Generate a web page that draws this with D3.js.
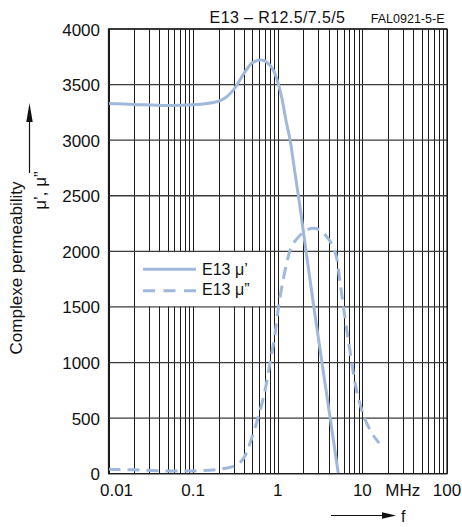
<!DOCTYPE html>
<html>
<head>
<meta charset="utf-8">
<script src="https://cdn.jsdelivr.net/npm/d3@7"></script>
<style>
  html, body { margin: 0; padding: 0; background: #fff; }
  svg { display: block; font-family: "Liberation Sans", Arial, Helvetica, sans-serif; }
</style>
</head>
<body>
<svg id="chart" width="462" height="527"></svg>
<script>
// Complex permeability of E13 material, R12.5/7.5/5 toroid, versus frequency
const freqReal = [0.01, 0.02, 0.05, 0.1, 0.2, 0.3, 0.4, 0.5, 0.63, 0.8, 0.97, 1.11, 1.27, 1.4, 1.6, 1.83, 2.1, 2.6, 3.2, 4.0, 5.2];
const muReal   = [3330, 3322, 3312, 3318, 3350, 3452, 3602, 3697, 3721, 3678, 3557, 3391, 3152, 3002, 2703, 2403, 2070, 1560, 1090, 590, 0];

const freqImag = [0.01, 0.02, 0.05, 0.1, 0.2, 0.3, 0.4, 0.5, 0.59, 0.71, 0.81, 0.93, 1.02, 1.16, 1.4, 1.67, 2.0, 2.6, 3.2, 3.8, 4.5, 5.0, 5.5, 6.2, 7.1, 8.2, 9.8, 12.3, 15.8];
const muImag   = [40, 35, 24, 25, 40, 66, 145, 335, 515, 755, 995, 1265, 1500, 1745, 2010, 2110, 2170, 2208, 2190, 2130, 2040, 1930, 1700, 1414, 1114, 815, 575, 395, 275];

const xTickValues = [0.01, 0.1, 1, 10, 100];
const xTickLabels = ["0.01", "0.1", "1", "10", "100"];
const yTickValues = [0, 500, 1000, 1500, 2000, 2500, 3000, 3500, 4000];
const seriesNames = ["E13 \u03bc\u2019", "E13 \u03bc\u201d"];

const titleText = "E13 \u2013 R12.5/7.5/5";
const codeText = "FAL0921-5-E";
const yTitle = "Complexe permeability";
const ySymbol = "\u03bc\u2019, \u03bc\u201d";
const unitText = "MHz";

const curveColor = "#9fb8db";
const svg = d3.select("#chart");

const x = d3.scaleLog().domain([0.01, 100]).range([108.5, 447]);
const y = d3.scaleLinear().domain([0, 4000]).range([473.7, 29]);

// log grid: every 1..9 multiple in each decade
const minor = [];
[0.01, 0.1, 1, 10].forEach(d => { for (let k = 1; k <= 9; k++) minor.push(+(k * d).toPrecision(3)); });
minor.push(100);

const grid = svg.append("g");
grid.selectAll("line.v").data(minor).enter().append("line")
  .attr("x1", d => Math.round(x(d)) + 0.5).attr("x2", d => Math.round(x(d)) + 0.5)
  .attr("y1", y(4000)).attr("y2", y(0))
  .attr("stroke", "#1a1a1a").attr("stroke-width", 1);
grid.selectAll("line.h").data(yTickValues).enter().append("line")
  .attr("x1", x(0.01)).attr("x2", x(100))
  .attr("y1", d => y(d)).attr("y2", d => y(d))
  .attr("stroke", "#3a3a3a").attr("stroke-width", 1.3);

// legend panel occupies one grid cell region
const lx0 = Math.round(x(0.02)) + 1, lx1 = Math.round(x(0.7));
svg.append("rect")
  .attr("x", lx0).attr("y", y(2000) + 0.8)
  .attr("width", lx1 - lx0).attr("height", y(1500) - y(2000) - 1.6)
  .attr("fill", "#fff");

// axis tick labels
svg.append("g").selectAll("text").data(yTickValues).enter().append("text")
  .attr("x", 100).attr("y", d => y(d) + 6.5)
  .attr("text-anchor", "end").attr("font-size", 17).attr("fill", "#111")
  .text(d => d);

svg.append("g").selectAll("text").data(xTickValues).enter().append("text")
  .attr("x", (d, i) => x(d) + (i === 0 ? 8 : 0)).attr("y", 495.5)
  .attr("text-anchor", "middle").attr("font-size", 17).attr("fill", "#111")
  .text((d, i) => xTickLabels[i]);

svg.append("text").attr("x", x(30)).attr("y", 495.5)
  .attr("text-anchor", "middle").attr("font-size", 17).attr("fill", "#111")
  .text(unitText);

// titles
svg.append("text").attr("x", 277.5).attr("y", 23.3)
  .attr("text-anchor", "middle").attr("font-size", 16).attr("letter-spacing", 0.4).attr("fill", "#111")
  .text(titleText);
svg.append("text").attr("x", 444.5).attr("y", 23.3)
  .attr("text-anchor", "end").attr("font-size", 12.5).attr("fill", "#111")
  .text(codeText);

svg.append("text").attr("transform", "translate(21.5,268) rotate(-90)")
  .attr("text-anchor", "middle").attr("font-size", 17).attr("fill", "#111")
  .text(yTitle);
svg.append("text").attr("transform", "translate(46,190.5) rotate(-90)")
  .attr("text-anchor", "middle").attr("font-size", 17).attr("fill", "#111")
  .text(ySymbol);

// direction arrows
svg.append("line").attr("x1", 29.5).attr("x2", 29.5).attr("y1", 173).attr("y2", 115)
  .attr("stroke", "#111").attr("stroke-width", 1.2);
svg.append("path").attr("d", "M29.5,103 L26.3,122 L32.7,122 Z").attr("fill", "#111");

svg.append("line").attr("x1", 331).attr("x2", 388).attr("y1", 515.5).attr("y2", 515.5)
  .attr("stroke", "#111").attr("stroke-width", 1.2);
svg.append("path").attr("d", "M396,515.5 L382,512.3 L382,518.7 Z").attr("fill", "#111");
svg.append("text").attr("x", 401).attr("y", 522)
  .attr("font-size", 16).attr("fill", "#111").text("f");

// curves
const line = d3.line().x(d => x(d[0])).y(d => y(d[1])).curve(d3.curveMonotoneX);
svg.append("path")
  .datum(d3.zip(freqReal, muReal))
  .attr("d", line).attr("fill", "none")
  .attr("stroke", curveColor).attr("stroke-width", 3).attr("stroke-linecap", "butt");
svg.append("path")
  .datum(d3.zip(freqImag, muImag))
  .attr("d", line).attr("fill", "none")
  .attr("stroke", curveColor).attr("stroke-width", 3)
  .attr("stroke-dasharray", "12,7");

// frame
svg.append("rect").attr("x", x(0.01)).attr("y", y(4000))
  .attr("width", x(100) - x(0.01)).attr("height", y(0) - y(4000))
  .attr("fill", "none").attr("stroke", "#1a1a1a").attr("stroke-width", 1.2);

// legend entries
const leg = svg.append("g");
leg.append("line").attr("x1", 143).attr("x2", 196).attr("y1", 269.3).attr("y2", 269.3)
  .attr("stroke", curveColor).attr("stroke-width", 3);
leg.append("line").attr("x1", 143).attr("x2", 196).attr("y1", 290.7).attr("y2", 290.7)
  .attr("stroke", curveColor).attr("stroke-width", 3).attr("stroke-dasharray", "12,8.5");
leg.selectAll("text").data(seriesNames).enter().append("text")
  .attr("x", 202).attr("y", (d, i) => 275 + i * 20)
  .attr("font-size", 16).attr("fill", "#111")
  .text(d => d);
</script>
</body>
</html>
